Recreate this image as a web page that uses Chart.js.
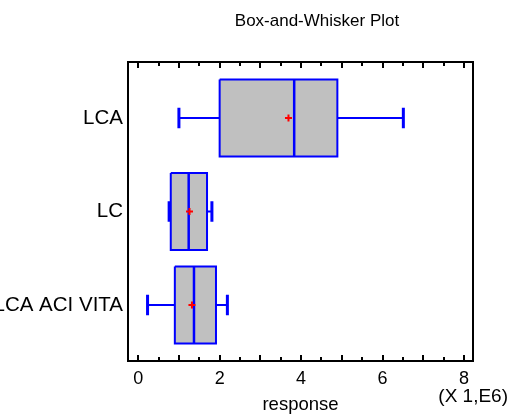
<!DOCTYPE html>
<html><head><meta charset="utf-8">
<script src="https://cdn.jsdelivr.net/npm/chart.js@4/dist/chart.umd.min.js"></script>
<style>html,body{margin:0;padding:0;background:#fff}#wrap{width:513px;height:416px;position:relative}</style>
</head><body><div id="wrap"><canvas id="c"></canvas></div>
<script>
const categories = ['LCA', 'LC', 'LCA ACI VITA'];
const whiskerLow = [1.00, 0.76, 0.23];
const q1 = [2.00, 0.80, 0.90];
const median = [3.83, 1.24, 1.37];
const q3 = [4.89, 1.69, 1.91];
const whiskerHigh = [6.51, 1.81, 2.19];
const mean = [3.69, 1.26, 1.32];
const xTickLabels = [0, 2, 4, 6, 8];
const titleText = 'Box-and-Whisker Plot';
const xTitle = 'response';
const xScaleNote = '(X 1,E6)';

const FONT = "'Liberation Sans', Arial, sans-serif";
const BLUE = '#0000ff';
const BOX_HALF = 0.4125, CAP_HALF = 0.11;
const GAP = {x: null, y: null};

const pos = categories.map((c, i) => i + 1);

const boxSets = categories.map((c, i) => ({
  label: c,
  data: [
    {x: q1[i], y: pos[i] - BOX_HALF}, {x: q3[i], y: pos[i] - BOX_HALF},
    {x: q3[i], y: pos[i] + BOX_HALF}, {x: q1[i], y: pos[i] + BOX_HALF},
    {x: q1[i], y: pos[i] - BOX_HALF}
  ],
  showLine: true, fill: 'shape', backgroundColor: '#c0c0c0',
  borderColor: BLUE, borderWidth: 2, pointRadius: 0, order: 5
}));

const whiskerData = [];
const capData = [];
const medianData = [];
categories.forEach((c, i) => {
  whiskerData.push({x: whiskerLow[i], y: pos[i]}, {x: q1[i], y: pos[i]}, GAP,
                   {x: q3[i], y: pos[i]}, {x: whiskerHigh[i], y: pos[i]}, GAP);
  capData.push({x: whiskerLow[i], y: pos[i] - CAP_HALF}, {x: whiskerLow[i], y: pos[i] + CAP_HALF}, GAP,
               {x: whiskerHigh[i], y: pos[i] - CAP_HALF}, {x: whiskerHigh[i], y: pos[i] + CAP_HALF}, GAP);
  medianData.push({x: median[i], y: pos[i] - BOX_HALF}, {x: median[i], y: pos[i] + BOX_HALF}, GAP);
});

const datasets = [
  ...boxSets,
  {label: 'whiskers', data: whiskerData, showLine: true, spanGaps: false, borderColor: BLUE, borderWidth: 2, pointRadius: 0, order: 4},
  {label: 'caps', data: capData, showLine: true, spanGaps: false, borderColor: BLUE, borderWidth: 3, pointRadius: 0, order: 3},
  {label: 'median', data: medianData, showLine: true, spanGaps: false, borderColor: BLUE, borderWidth: 2.5, pointRadius: 0, order: 2},
  {label: 'mean', data: categories.map((c, i) => ({x: mean[i], y: pos[i]})), showLine: false,
   pointStyle: 'cross', pointRadius: 3.5, borderColor: '#ff0000', borderWidth: 2, order: 1}
];

const decor = {
  id: 'decor',
  afterDraw(chart) {
    const ctx = chart.ctx, a = chart.chartArea, xs = chart.scales.x;
    ctx.save();
    ctx.strokeStyle = '#000';
    ctx.lineWidth = 2;
    ctx.strokeRect(a.left, a.top, a.right - a.left, a.bottom - a.top);
    for (let k = 0; k <= 16; k++) {
      const v = k / 2;
      const px = Math.round(xs.getPixelForValue(v));
      const len = (k % 2 === 0) ? 6 : 4;
      ctx.beginPath();
      ctx.moveTo(px, a.top); ctx.lineTo(px, a.top + len);
      ctx.moveTo(px, a.bottom); ctx.lineTo(px, a.bottom - len);
      ctx.stroke();
    }
    ctx.fillStyle = '#000';
    ctx.textBaseline = 'middle';
    ctx.textAlign = 'center';
    ctx.font = '17px ' + FONT;
    ctx.fillText(titleText, 317, 21);
    ctx.font = '19px ' + FONT;
    ctx.textAlign = 'right';
    ctx.fillText(xScaleNote, 508, 397);
    ctx.restore();
  }
};

new Chart(document.getElementById('c'), {
  type: 'scatter',
  data: {datasets},
  plugins: [decor],
  options: {
    responsive: true, maintainAspectRatio: false, animation: false,
    layout: {padding: {top: 62, right: 40, bottom: 0, left: 0}},
    plugins: {legend: {display: false}, tooltip: {enabled: false}, title: {display: false}},
    scales: {
      x: {
        type: 'linear', min: -0.25, max: 8.22,
        afterBuildTicks: s => { s.ticks = xTickLabels.map(v => ({value: v})); },
        afterFit: s => { s.height = 55; },
        grid: {display: false, drawTicks: false}, border: {display: false},
        ticks: {color: '#000', font: {family: FONT, size: 18}, padding: 7, maxRotation: 0, autoSkip: false},
        title: {display: true, text: xTitle, color: '#000', font: {family: FONT, size: 18.5}, padding: {top: 0, bottom: 0}}
      },
      y: {
        type: 'linear', min: 0.4, max: 3.6, reverse: true,
        afterBuildTicks: s => { s.ticks = pos.map(v => ({value: v})); },
        afterFit: s => { s.width = 128; },
        grid: {display: false, drawTicks: false}, border: {display: false},
        ticks: {color: '#000', font: {family: FONT, size: 20.5}, padding: 5, autoSkip: false,
                callback: v => categories[Math.round(v) - 1]}
      }
    }
  }
});
</script></body></html>
